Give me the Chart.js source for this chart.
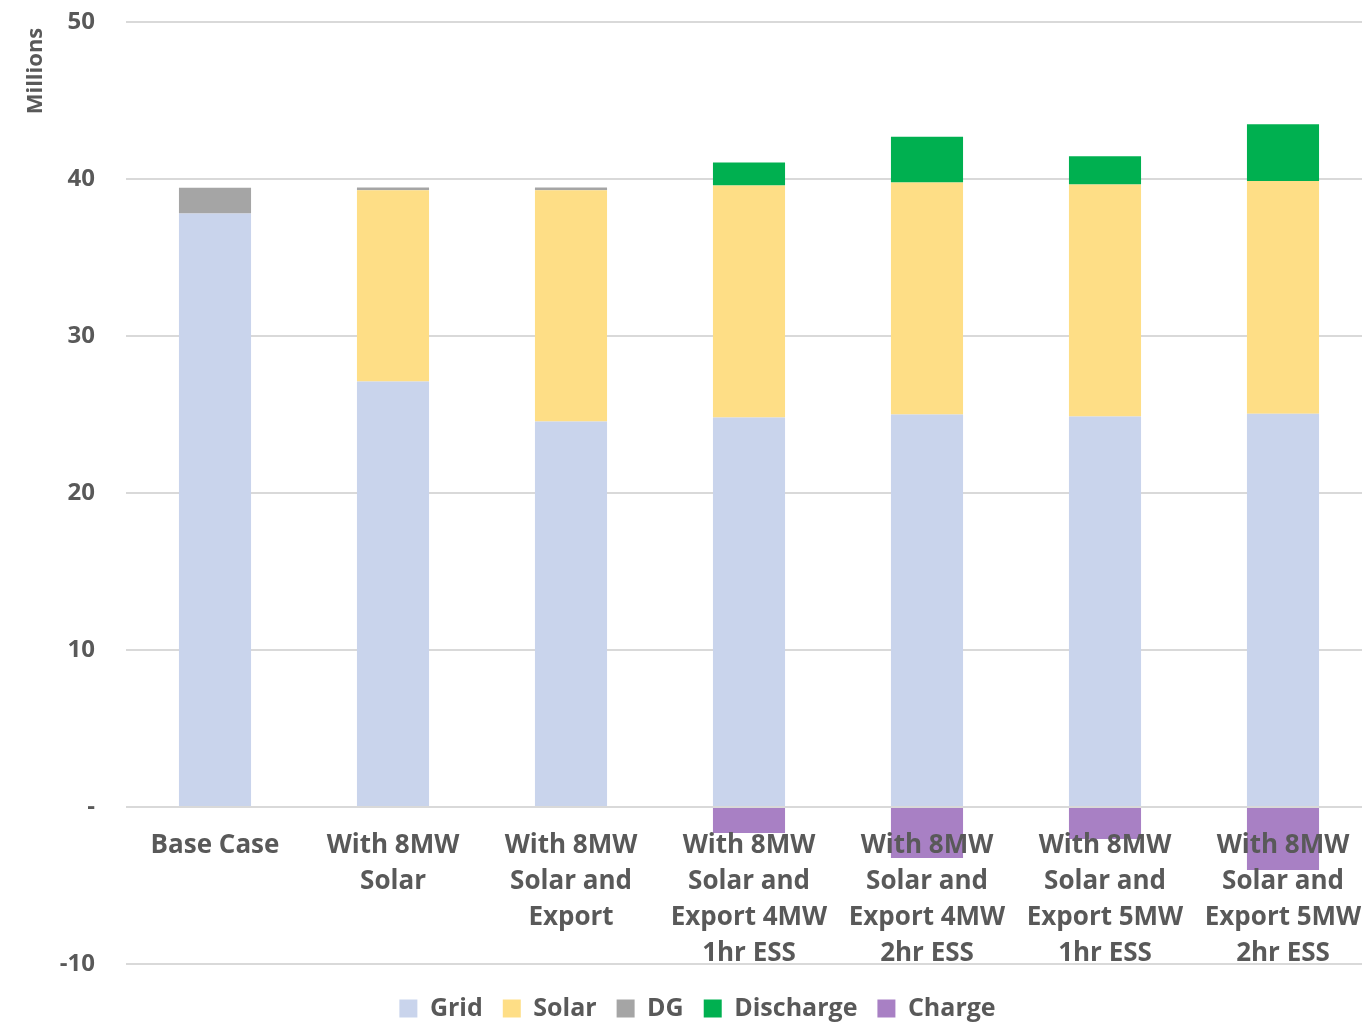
<!DOCTYPE html>
<html>
<head>
<meta charset="utf-8">
<script src="https://cdn.jsdelivr.net/npm/chart.js@4/dist/chart.umd.min.js"></script>
<style>
html,body{margin:0;padding:0;background:#fff;overflow:hidden;}
#wrap{width:1362px;height:1031px;overflow:hidden;}
</style>
</head>
<body>
<div id="wrap"><canvas id="c" width="1372" height="1031"></canvas></div>
<script>
const categories = [
  "Base Case",
  ["With 8MW", "Solar"],
  ["With 8MW", "Solar and", "Export"],
  ["With 8MW", "Solar and", "Export 4MW", "1hr ESS"],
  ["With 8MW", "Solar and", "Export 4MW", "2hr ESS"],
  ["With 8MW", "Solar and", "Export 5MW", "1hr ESS"],
  ["With 8MW", "Solar and", "Export 5MW", "2hr ESS"]
];
const grid      = [37.80, 27.10, 24.55, 24.81, 25.00, 24.87, 25.04];
const solar     = [0, 12.19, 14.74, 14.77, 14.77, 14.78, 14.84];
const dg        = [1.65, 0.17, 0.17, 0, 0, 0, 0];
const discharge = [0, 0, 0, 1.47, 2.92, 1.80, 3.60];
const charge    = [0, 0, 0, -1.65, -3.25, -2.04, -4.02];
const yTicks = [-10, 0, 10, 20, 30, 40, 50];

const txt = '#595959';
const fontFam = '"Open Sans", "DejaVu Sans", sans-serif';

new Chart(document.getElementById('c'), {
  type: 'bar',
  data: {
    labels: categories,
    datasets: [
      {label: 'Grid', data: grid, backgroundColor: '#C9D4EC'},
      {label: 'Solar', data: solar, backgroundColor: '#FEDE86'},
      {label: 'DG', data: dg, backgroundColor: '#A5A5A5'},
      {label: 'Discharge', data: discharge, backgroundColor: '#00B050'},
      {label: 'Charge', data: charge, backgroundColor: '#A880C4'}
    ]
  },
  options: {
    responsive: false,
    animation: false,
    layout: {padding: {top: 0, right: 0, bottom: 0, left: 23}},
    datasets: {bar: {categoryPercentage: 1, barPercentage: 0.405, borderWidth: 0}},
    plugins: {
      legend: {
        position: 'bottom',
        weight: 3000,
        labels: {
          boxWidth: 18, boxHeight: 18, padding: 20, color: txt,
          font: {family: fontFam, size: 25, weight: 'bold'}
        }
      },
      title: {
        display: true, text: '', position: 'bottom',
        padding: {top: 0, bottom: 0},
        font: {size: 8, lineHeight: 1.5}
      },
      tooltip: {enabled: false}
    },
    scales: {
      x: {
        stacked: true,
        position: {y: 0},
        afterFit: (s) => { s.paddingLeft = 0; s.paddingRight = 0; },
        grid: {display: false, drawTicks: false},
        border: {display: false},
        ticks: {
          z: 1,
          color: txt, padding: 21, maxRotation: 0, autoSkip: false,
          font: {family: fontFam, size: 26, weight: 'bold', lineHeight: 1.385}
        }
      },
      y: {
        stacked: true,
        min: -10, max: 50,
        afterBuildTicks: (s) => { s.ticks = yTicks.map(v => ({value: v})); },
        afterFit: (s) => { s.width = 103; s.paddingTop = 22; s.paddingBottom = 0; },
        grid: {color: '#D9D9D9', lineWidth: 2, drawTicks: false},
        border: {display: false},
        title: {
          display: true, text: 'Millions ', align: 'end', color: txt,
          padding: {top: 0, bottom: 0},
          font: {family: fontFam, size: 22, weight: 'bold'}
        },
        ticks: {
          color: txt, padding: 31,
          font: {family: fontFam, size: 24, weight: 'bold'},
          callback: (v) => v === 0 ? '-' : String(v)
        }
      }
    }
  }
});
</script>
</body>
</html>
